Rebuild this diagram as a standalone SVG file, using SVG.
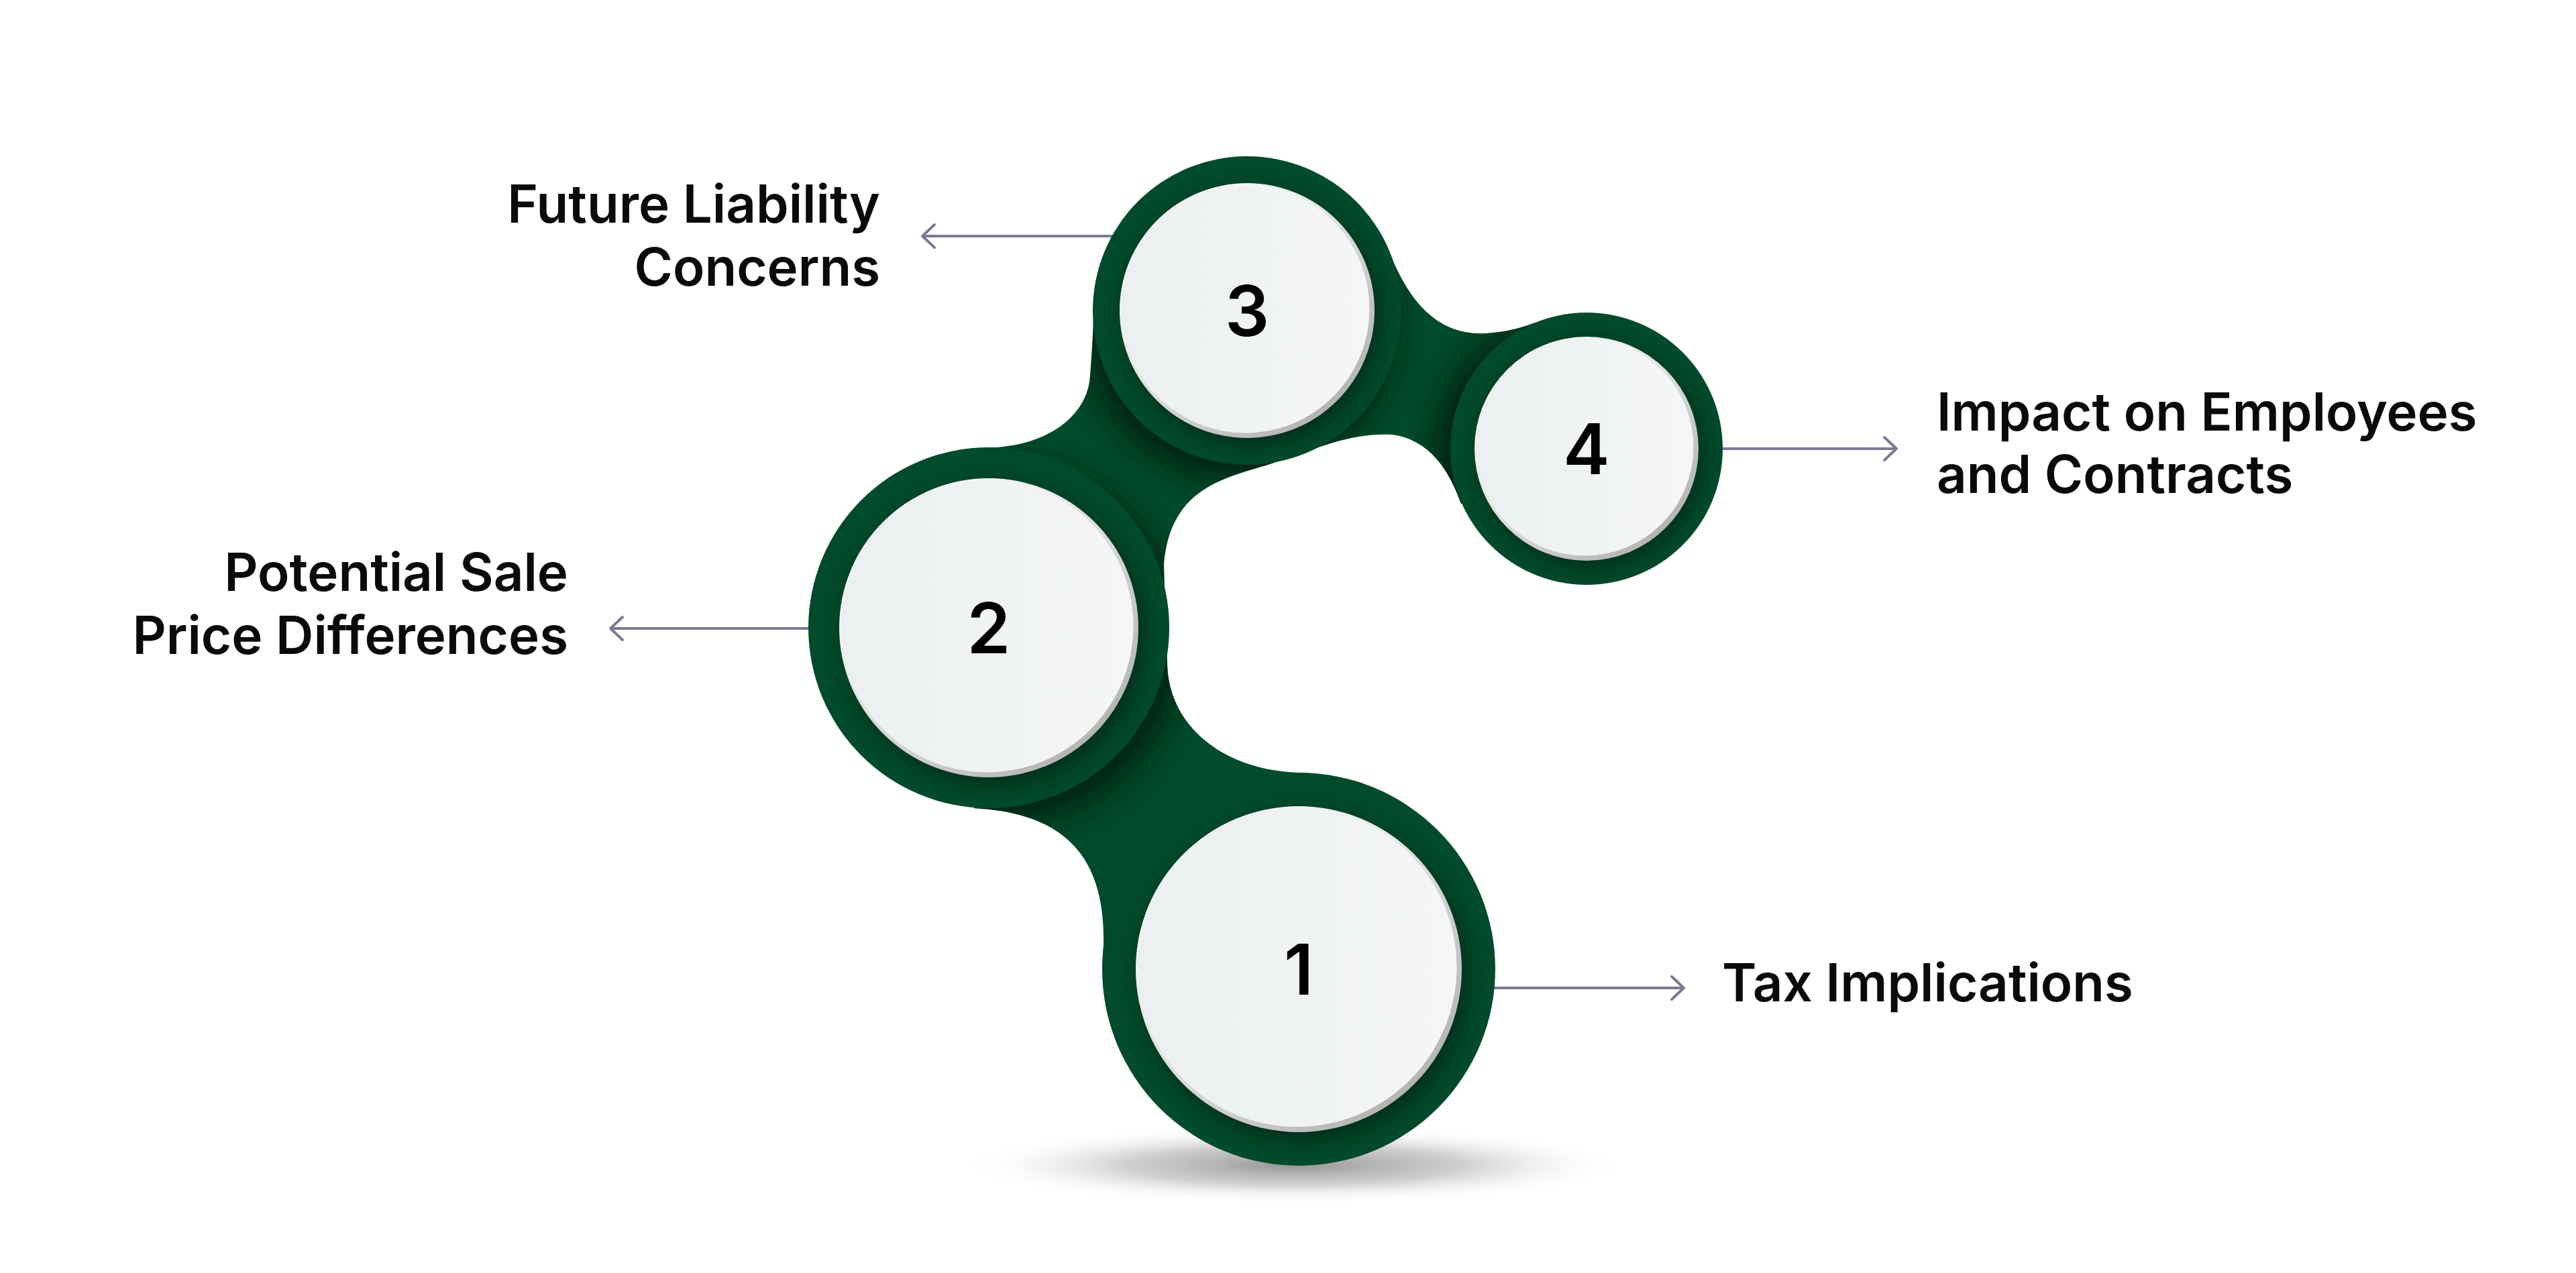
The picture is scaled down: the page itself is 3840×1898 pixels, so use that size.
<svg xmlns="http://www.w3.org/2000/svg" width="3840" height="1898" viewBox="0 0 3840 1898">
<style>
.ring{fill:#014a2b}
.face{fill:url(#faceGrad)}
.rim{fill:url(#rimGrad)}
.num{font-family:Inter,"Noto Sans","Liberation Sans",sans-serif;font-weight:600;font-size:104px;fill:#000;text-anchor:middle}
.lbl{font-family:Inter,"Noto Sans","Liberation Sans",sans-serif;font-weight:600;font-size:78px;fill:#0a0a0a}
.conn{stroke:#7b7a96;stroke-width:4;fill:none}
.shd{fill:#001a0c;opacity:0.85}
.ishd{fill:#001a0c;opacity:0.6}
</style>
<defs>
<linearGradient id="faceGrad" x1="0" y1="0" x2="1" y2="0">
<stop offset="0" stop-color="#eceff0"/>
<stop offset="1" stop-color="#f4f6f7"/>
</linearGradient>
<linearGradient id="rimGrad" x1="0.15" y1="0.1" x2="0.85" y2="0.9">
<stop offset="0" stop-color="#ffffff"/>
<stop offset="0.5" stop-color="#dcdcdc"/>
<stop offset="1" stop-color="#b2b2b2"/>
</linearGradient>
<radialGradient id="floorGrad" cx="0.5" cy="0.5" r="0.5">
<stop offset="0" stop-color="#8a8a8a" stop-opacity="0.9"/>
<stop offset="0.5" stop-color="#a8a8a8" stop-opacity="0.55"/>
<stop offset="1" stop-color="#ffffff" stop-opacity="0"/>
</radialGradient>
<filter id="blurBig" x="-30%" y="-30%" width="160%" height="160%"><feGaussianBlur stdDeviation="22"/></filter>
<filter id="blurSmall" x="-20%" y="-20%" width="140%" height="140%"><feGaussianBlur stdDeviation="14"/></filter>
<clipPath id="bodyClip"><path d="M1936,1445 L1643,1445 L1645,1410 C1648,1280 1590,1212 1452,1205 L1474,936 L1470,667.5 C1560,667 1622,620 1625,560 C1628,520 1630,490 1630,466 L1859,463 L2072,378 C2105,460 2150,500 2215,497 C2245,495 2265,490 2289,481 L2365,669 L2178,751 C2160,700 2130,655 2075,648 C2010,645 1960,670 1893,692 C1830,712 1745,725 1735,840 L1737,930 L1740,990 C1742,1080 1820,1148 1936,1152 Z"/></clipPath>
<clipPath id="clip1"><circle cx="1936" cy="1445" r="293"/></clipPath>
<clipPath id="clip2"><circle cx="1474" cy="936" r="269"/></clipPath>
<clipPath id="clip3"><circle cx="1859" cy="463" r="230"/></clipPath>
<clipPath id="clip4"><circle cx="2365" cy="669" r="203"/></clipPath>
<marker id="chev" markerUnits="userSpaceOnUse" markerWidth="40" markerHeight="44" refX="22" refY="20" orient="auto" viewBox="0 0 40 44">
<path d="M4,3 L22,20 L4,37" fill="none" stroke="#7b7a96" stroke-width="4" stroke-linecap="round" stroke-linejoin="round"/>
</marker>
</defs>
<rect width="3840" height="1898" fill="#ffffff"/>

<ellipse id="floor-shadow" cx="1930" cy="1737" rx="500" ry="58" fill="url(#floorGrad)"/>

<g id="body">
<path class="ring" d="M1936,1445 L1643,1445 L1645,1410 C1648,1280 1590,1212 1452,1205 L1474,936 L1470,667.5 C1560,667 1622,620 1625,560 C1628,520 1630,490 1630,466 L1859,463 L2072,378 C2105,460 2150,500 2215,497 C2245,495 2265,490 2289,481 L2365,669 L2178,751 C2160,700 2130,655 2075,648 C2010,645 1960,670 1893,692 C1830,712 1745,725 1735,840 L1737,930 L1740,990 C1742,1080 1820,1148 1936,1152 Z"/>
<g clip-path="url(#bodyClip)">
<circle class="shd" cx="1492" cy="958" r="269" filter="url(#blurBig)"/>
<circle class="shd" cx="1847" cy="485" r="230" filter="url(#blurBig)"/>
<circle class="shd" cx="2343" cy="673" r="203" filter="url(#blurBig)"/>
</g>
</g>

<g id="connectors">
<line class="conn" x1="1660" y1="352" x2="1375" y2="352" marker-end="url(#chev)"/>
<line class="conn" x1="1207" y1="937" x2="910" y2="937" marker-end="url(#chev)"/>
<line class="conn" x1="2566" y1="669" x2="2827" y2="669" marker-end="url(#chev)"/>
<line class="conn" x1="2226" y1="1473" x2="2510" y2="1473" marker-end="url(#chev)"/>
</g>

<g id="node1">
<circle class="ring" cx="1936" cy="1445" r="293"/>
<g clip-path="url(#clip1)"><circle class="ishd" cx="1944" cy="1458" r="243" filter="url(#blurSmall)"/></g>
<circle class="rim" cx="1936" cy="1445" r="243"/>
<circle class="face" cx="1933.5" cy="1442" r="238"/>
<text class="num" x="1936" y="1483">1</text>
<text class="lbl" x="2567" y="1493">Tax Implications</text>
</g>

<g id="node2">
<circle class="ring" cx="1474" cy="936" r="269"/>
<g clip-path="url(#clip2)"><circle class="ishd" cx="1482" cy="948" r="223" filter="url(#blurSmall)"/></g>
<circle class="rim" cx="1474" cy="936" r="223"/>
<circle class="face" cx="1471.5" cy="933.5" r="218"/>
<text class="num" x="1474" y="974">2</text>
<text class="lbl" text-anchor="end" x="847" y="881">Potential Sale</text>
<text class="lbl" text-anchor="end" x="847" y="975">Price Differences</text>
</g>

<g id="node3">
<circle class="ring" cx="1859" cy="463" r="230"/>
<g clip-path="url(#clip3)"><circle class="ishd" cx="1866" cy="474" r="190" filter="url(#blurSmall)"/></g>
<circle class="rim" cx="1859" cy="463" r="190"/>
<circle class="face" cx="1856.5" cy="460.5" r="185"/>
<text class="num" x="1859" y="501">3</text>
<text class="lbl" text-anchor="end" x="1312" y="332">Future Liability</text>
<text class="lbl" text-anchor="end" x="1312" y="426">Concerns</text>
</g>

<g id="node4">
<circle class="ring" cx="2365" cy="669" r="203"/>
<g clip-path="url(#clip4)"><circle class="ishd" cx="2371" cy="679" r="167" filter="url(#blurSmall)"/></g>
<circle class="rim" cx="2365" cy="669" r="167"/>
<circle class="face" cx="2362.5" cy="666.5" r="162"/>
<text class="num" x="2365" y="707">4</text>
<text class="lbl" x="2887" y="642">Impact on Employees</text>
<text class="lbl" x="2887" y="735">and Contracts</text>
</g>
</svg>
